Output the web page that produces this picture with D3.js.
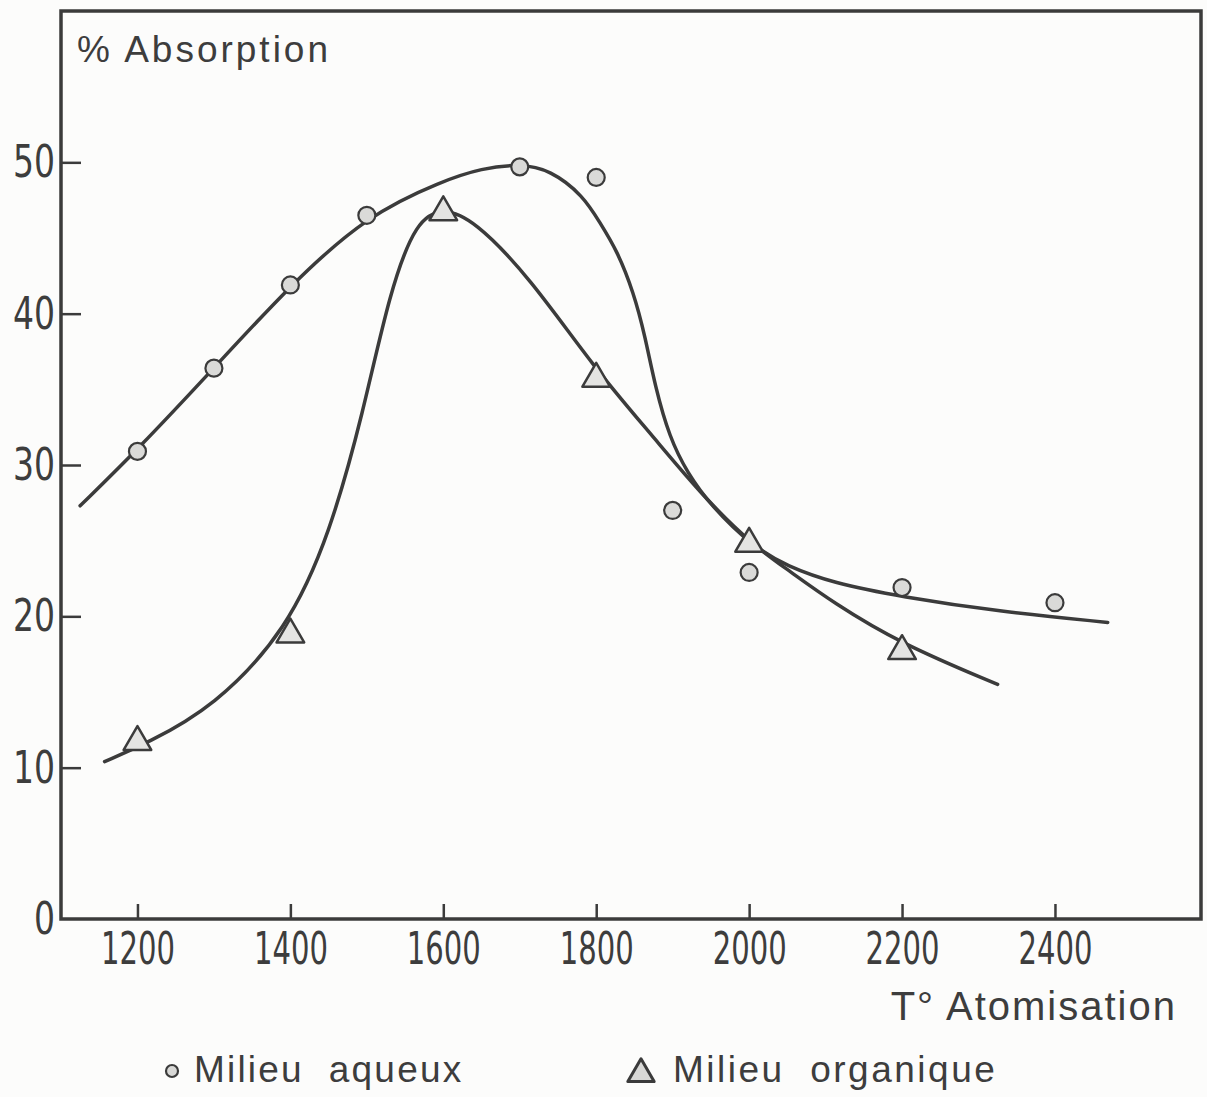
<!DOCTYPE html>
<html>
<head>
<meta charset="utf-8">
<script src="https://cdn.jsdelivr.net/npm/d3@7"></script>
<style>
  html, body { margin: 0; padding: 0; background: #fcfcfb; }
  svg { display: block; }
  .tick text { font-family: "Liberation Sans Narrow", "DejaVu Sans Condensed", sans-serif; fill: #3d3d3d; }
  .lbl { font-family: "Liberation Sans", "DejaVu Sans", sans-serif; fill: #3d3d3d; white-space: pre; }
</style>
</head>
<body>
<svg id="chart" width="1207" height="1097"></svg>
<script>
// Measured points: aqueous medium (circles)
const aqueousTemp  = [1200, 1300, 1400, 1500, 1700, 1800, 1900, 2000, 2200, 2400];
const aqueousValue = [30.9, 36.4, 41.9, 46.5, 49.7, 49.0, 27.0, 22.9, 21.9, 20.9];

// Measured points: organic medium (triangles)
const organicTemp  = [1200, 1400, 1600, 1800, 2000, 2200];
const organicValue = [11.7, 18.8, 46.7, 35.7, 24.8, 17.7];

// Hand-fitted trend curve through the aqueous points
const aqueousCurveTemp  = [1125, 1200, 1300, 1400, 1500, 1600, 1650, 1700, 1740, 1783, 1805, 1827, 1849, 1864, 1877, 1896, 1919, 1950, 2005, 2050, 2110, 2198, 2329, 2469];
const aqueousCurveValue = [27.3, 31.0, 36.4, 41.9, 46.5, 48.8, 49.6, 49.9, 49.5, 47.8, 46.0, 44.2, 41.4, 38.5, 35.2, 31.8, 29.5, 27.3, 24.6, 23.3, 22.2, 21.3, 20.3, 19.6];

// Hand-fitted trend curve through the organic points
const organicCurveTemp  = [1157, 1212, 1300, 1396, 1452, 1495, 1530, 1565, 1600, 1640, 1713, 1796, 1874, 1940, 2005, 2050, 2110, 2198, 2325];
const organicCurveValue = [10.4, 11.6, 14.0, 19.1, 25.5, 33.4, 41.5, 46.2, 47.0, 46.2, 42.4, 36.5, 31.9, 27.9, 24.7, 23.1, 20.9, 18.2, 15.5];

// Axis ticks and labels
const xTicks = [1200, 1400, 1600, 1800, 2000, 2200, 2400];
const yTicks = [0, 10, 20, 30, 40, 50];
const yTitle = "% Absorption";
const xTitle = "T° Atomisation";
const legendAqueous = "Milieu  aqueux";
const legendOrganic = "Milieu  organique";

const ink = "#3b3b3b";
const svg = d3.select("#chart");

const x = d3.scaleLinear().domain([1100, 2591]).range([61, 1201]);
const y = d3.scaleLinear().domain([0, 60]).range([919, 11]);

// Frame
svg.append("rect")
  .attr("x", x.range()[0]).attr("y", y.range()[1])
  .attr("width", x.range()[1] - x.range()[0])
  .attr("height", y.range()[0] - y.range()[1])
  .attr("fill", "none").attr("stroke", ink).attr("stroke-width", 3.5);

// Axes with inward ticks; narrow, tall stencil-like numerals
const xAxis = svg.append("g")
  .attr("transform", `translate(0,${y(0)})`)
  .call(d3.axisBottom(x).tickValues(xTicks).tickSize(-15).tickPadding(14).tickFormat(d3.format("d")));
xAxis.select(".domain").remove();
xAxis.selectAll(".tick line").attr("stroke", ink).attr("stroke-width", 2.5);
xAxis.selectAll(".tick text").attr("font-size", 44)
  .attr("textLength", d => String(d).length * 18.5)
  .attr("lengthAdjust", "spacingAndGlyphs");

const yAxis = svg.append("g")
  .attr("transform", `translate(${x(1100)},0)`)
  .call(d3.axisLeft(y).tickValues(yTicks).tickSize(-20).tickPadding(6).tickFormat(d3.format("d")));
yAxis.select(".domain").remove();
yAxis.selectAll(".tick line").attr("stroke", ink).attr("stroke-width", 2.5)
  .attr("display", d => d === 0 ? "none" : null);
yAxis.selectAll(".tick text").attr("font-size", 45)
  .attr("textLength", d => String(d).length * 21)
  .attr("lengthAdjust", "spacingAndGlyphs");

// Titles
svg.append("text").attr("class", "lbl")
  .attr("x", 77).attr("y", 62)
  .attr("font-size", 37).attr("letter-spacing", 3)
  .text(yTitle);

svg.append("text").attr("class", "lbl")
  .attr("x", 1177).attr("y", 1020).attr("text-anchor", "end")
  .attr("font-size", 40).attr("letter-spacing", 2)
  .text(xTitle);

// Trend curves (smoothed B-spline through the traced points)
const line = d3.line()
  .x(d => x(d[0])).y(d => y(d[1]))
  .curve(d3.curveBasis);

const aqueousCurve = d3.zip(aqueousCurveTemp, aqueousCurveValue);
const organicCurve = d3.zip(organicCurveTemp, organicCurveValue);

svg.append("path").datum(organicCurve)
  .attr("d", line).attr("fill", "none")
  .attr("stroke", ink).attr("stroke-width", 3.5).attr("stroke-linecap", "round");

svg.append("path").datum(aqueousCurve)
  .attr("d", line).attr("fill", "none")
  .attr("stroke", ink).attr("stroke-width", 3.5).attr("stroke-linecap", "round");

// Markers
const tri = d3.symbol().type(d3.symbolTriangle).size(330);

svg.append("g").selectAll("path")
  .data(d3.zip(organicTemp, organicValue))
  .join("path")
  .attr("transform", d => `translate(${x(d[0])},${y(d[1])})`)
  .attr("d", tri)
  .attr("fill", "#e4e4e2").attr("stroke", ink).attr("stroke-width", 2.5)
  .attr("stroke-linejoin", "round");

svg.append("g").selectAll("circle")
  .data(d3.zip(aqueousTemp, aqueousValue))
  .join("circle")
  .attr("cx", d => x(d[0])).attr("cy", d => y(d[1]))
  .attr("r", 8.5)
  .attr("fill", "#dadad8").attr("stroke", ink).attr("stroke-width", 2.2);

// Legend
const legend = svg.append("g");
legend.append("circle")
  .attr("cx", 172).attr("cy", 1071).attr("r", 6)
  .attr("fill", "#d8d8d6").attr("stroke", ink).attr("stroke-width", 2.2);
legend.append("text").attr("class", "lbl")
  .attr("x", 194).attr("y", 1082)
  .attr("font-size", 37).attr("letter-spacing", 2.2)
  .text(legendAqueous);

legend.append("path")
  .attr("transform", "translate(641,1074)")
  .attr("d", d3.symbol().type(d3.symbolTriangle).size(300))
  .attr("fill", "#d8d8d6").attr("stroke", ink).attr("stroke-width", 3)
  .attr("stroke-linejoin", "round");
legend.append("text").attr("class", "lbl")
  .attr("x", 673).attr("y", 1082)
  .attr("font-size", 37).attr("letter-spacing", 2.5)
  .text(legendOrganic);
</script>
</body>
</html>
